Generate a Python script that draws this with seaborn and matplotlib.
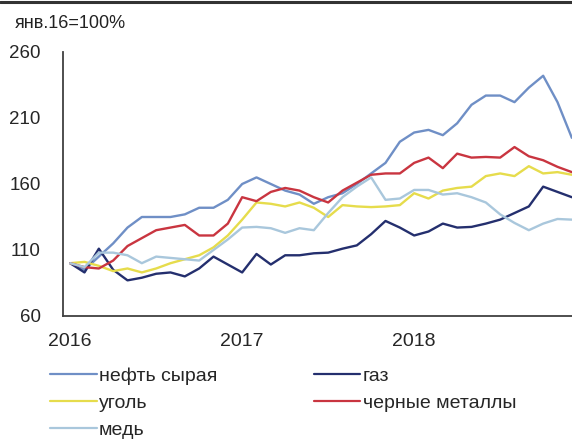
import numpy as np
import pandas as pd
import matplotlib.pyplot as plt
from matplotlib.lines import Line2D
import seaborn as sns

# Помесячные индексы, янв.2016 = 100
names = ['нефть сырая', 'газ', 'уголь', 'черные металлы', 'медь']
colors = ['#6f8fc6', '#242f6e', '#e6dc4c', '#c93540', '#a9c7dc']

oil = [100, 95, 105, 115, 127, 135, 135, 135, 137, 142, 142, 148,
       160, 165, 160, 155, 152, 145, 150, 153, 160, 168, 176, 192,
       199, 201, 197, 206, 220, 227, 227, 222, 233, 242, 222, 195]
gas = [100, 93, 111, 95, 87, 89, 92, 93, 90, 96, 105, 99,
       93, 107, 99, 106, 106, 107.5, 108, 111, 113.5, 122, 132, 127,
       121, 124, 130, 127, 127.5, 130, 133, 138, 143, 158, 154, 150]
coal = [100, 101, 98, 94, 96, 93, 96, 100, 103, 106, 112, 121,
        133, 146, 145, 143, 146, 142, 135, 144, 143, 142.5, 143, 144,
        153, 149, 155, 157, 158, 166, 168, 166, 173.5, 168, 169, 167]
steel = [100, 97, 96, 102, 113, 119, 125, 127, 129, 121, 121, 130,
         150, 147, 154, 157, 155, 150, 146, 155, 161, 167, 168, 168,
         176, 180, 172, 183, 180, 180.5, 180, 188, 181, 178, 173, 169]
copper = [100, 97, 108, 108, 106, 100, 105, 104, 103, 102, 110, 118,
          127, 127.5, 126.5, 123, 126.5, 125, 138, 150, 158, 165, 148, 149,
          155.5, 155.5, 152, 153, 150, 146, 137, 130.5, 125, 130, 133.5, 133]

year_labels = ['2016', '2017', '2018']
y_ticks = [60, 110, 160, 210, 260]

months = np.arange(len(oil))
df = pd.DataFrame({
    'month': np.tile(months, 5),
    'value': oil + gas + coal + steel + copper,
    'series': np.repeat(names, len(months)),
})

sns.set_style('white')
plt.rcParams['font.family'] = ['Liberation Sans', 'DejaVu Sans']

fig = plt.figure(figsize=(5.72, 4.41), dpi=100)
ax = fig.add_axes([63 / 572, 125 / 441, 516 / 572, 264 / 441])

sns.lineplot(data=df, x='month', y='value', hue='series', hue_order=names,
             palette=colors, linewidth=1.7, ax=ax, legend=False)

ax.set_xlim(-0.5, 35.5)
ax.set_ylim(60, 260)
ax.set_xlabel('')
ax.set_ylabel('')

# вертикальные засечки между годами, подписи - на январях
ax.set_xticks([-0.5, 11.5, 23.5])
ax.set_xticklabels([])
ax.set_xticks([0, 12, 24], minor=True)
ax.set_xticklabels(year_labels, minor=True, fontsize=14)
ax.tick_params(axis='x', which='minor', length=0, pad=12)
ax.tick_params(axis='x', which='major', length=5, width=1.1, color='#404040', direction='inout')
ax.set_yticks(y_ticks)
ax.set_yticklabels([str(v) for v in y_ticks], fontsize=13.5)
ax.tick_params(axis='y', length=5, width=1.1, color='#404040', pad=11)

for s in ['top', 'right']:
    ax.spines[s].set_visible(False)
for s in ['left', 'bottom']:
    ax.spines[s].set_color('#404040')
    ax.spines[s].set_linewidth(1.3)

fig.text(15 / 572, 1 - 28 / 441, 'янв.16=100%', fontsize=13, color='#222222', va='baseline')
fig.add_artist(Line2D([0, 1], [1 - 1.5 / 441] * 2, color='#333333', lw=2.2))

order = [0, 2, 4, 1, 3]
handles = [Line2D([], [], color=colors[i], lw=1.6) for i in order]
labels = [names[i] for i in order]
fig.legend(handles, labels, loc='upper left', bbox_to_anchor=(50 / 572, 1 - 367 / 441),
           ncol=2, frameon=False, fontsize=14, borderpad=0, borderaxespad=0,
           handlelength=2.4, handletextpad=0.12, labelspacing=0.5, columnspacing=4.95)

fig.savefig('out.png', dpi=100, facecolor='white')
